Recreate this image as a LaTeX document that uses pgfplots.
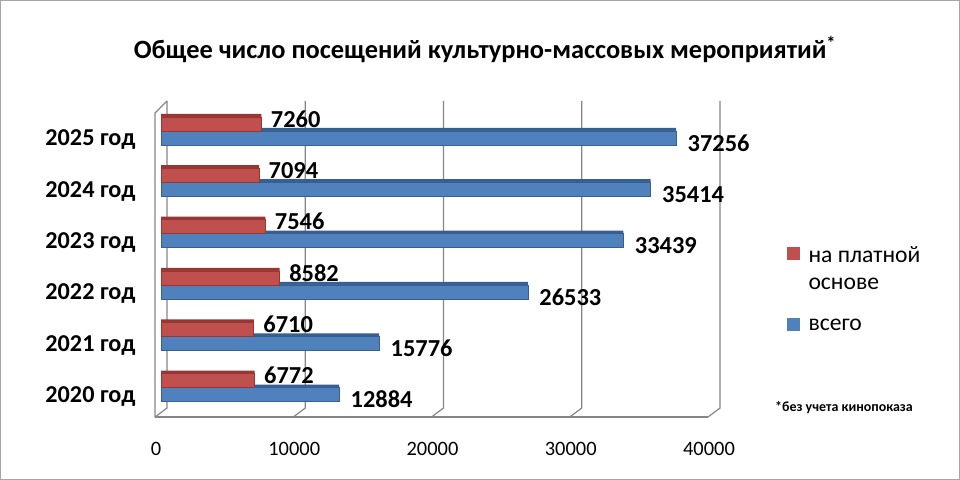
\documentclass[border=0pt]{standalone}
\usepackage{fontspec}
\setmainfont{Carlito}
\usepackage{pgfplots}
\pgfplotsset{compat=1.18}
\definecolor{redbar}{RGB}{192,80,77}
\definecolor{redtop}{RGB}{150,55,52}
\definecolor{bluebar}{RGB}{79,129,189}
\definecolor{bluetop}{RGB}{55,95,145}
\definecolor{gridc}{RGB}{134,134,134}
\tikzset{valnode/.style={anchor=west, font=\bfseries\fontsize{24.5}{28}\selectfont, black}}
\begin{document}
\begin{tikzpicture}
\useasboundingbox (0,0) rectangle (960bp,480bp);
\fill[white] (0,0) rectangle (960bp,480bp);
\draw[gray!70, line width=1bp] (0.5bp,0.5bp) rectangle (959.5bp,479.5bp);
\begin{axis}[
  at={(161bp,72bp)}, anchor=south west, scale only axis,
  width=553bp, height=307bp,
  xmin=0, xmax=40000, ymin=-0.3, ymax=5.68,
  xbar, bar width=14bp,
  axis line style={draw=none},
  major tick length=0pt,
  clip=false,
  xtick={0,10000,20000,30000,40000},
  xticklabel style={font=\fontsize{20.5}{24}\selectfont, anchor=center, xshift=-5bp, yshift=-41bp},
  scaled x ticks=false,
  xticklabel={\pgfmathprintnumber[1000 sep={},assume math mode=true]{\tick}},
  ytick={0,1,2,3,4,5},
  yticklabels={2020 год,2021 год,2022 год,2023 год,2024 год,2025 год},
  yticklabel style={font=\bfseries\fontsize{24.3}{28}\selectfont, anchor=east, xshift=-22bp, yshift=-4bp},
]
% grid (back wall + floor)
\pgfplotsinvokeforeach{0,10000,20000,30000,40000}{
  \draw[gridc, line width=1.2bp] ([xshift=6bp]axis cs:#1,5.68) -- ([xshift=6bp]axis cs:#1,-0.3) -- ([xshift=-6bp,yshift=-9bp]axis cs:#1,-0.3);
}
\draw[gridc, line width=1.2bp] ([xshift=-6bp,yshift=-9bp]axis cs:0,-0.3) -- ([xshift=-6bp,yshift=-9bp]axis cs:40000,-0.3);
\draw[gridc, line width=1.2bp] ([xshift=-6bp,yshift=-9bp]axis cs:0,-0.3) -- ([xshift=-6bp,yshift=-12bp]axis cs:0,5.68) -- ([xshift=6bp]axis cs:0,5.68);
% blue top face
\addplot[fill=bluetop, draw=none, bar shift=6.5bp, bar width=3bp, forget plot]
  coordinates {(12884,0) (15776,1) (26533,2) (33439,3) (35414,4) (37256,5)};
% blue bars
\addplot[fill=bluebar, draw=bluetop, line width=0.6bp, bar shift=-2bp,
  nodes near coords={\hspace*{8bp}\pgfmathprintnumber[1000 sep={},assume math mode=true]{\pgfplotspointmeta}},
  nodes near coords style={valnode, yshift=-5bp}]
  coordinates {(12884,0) (15776,1) (26533,2) (33439,3) (35414,4) (37256,5)};
% red top face
\addplot[fill=redtop, draw=none, bar shift=20.5bp, bar width=3bp, forget plot]
  coordinates {(6772,0) (6710,1) (8582,2) (7546,3) (7094,4) (7260,5)};
% red bars
\addplot[fill=redbar, draw=redtop, line width=0.6bp, bar shift=12bp,
  nodes near coords={\hspace*{6bp}\pgfmathprintnumber[1000 sep={},assume math mode=true]{\pgfplotspointmeta}},
  nodes near coords style={valnode, yshift=5bp}]
  coordinates {(6772,0) (6710,1) (8582,2) (7546,3) (7094,4) (7260,5)};
\end{axis}
% title
\node[font=\bfseries\fontsize{26.5}{30}\selectfont] at (485bp,430bp) {Общее число посещений культурно-массовых мероприятий\textsuperscript{*}};
% legend
\fill[redbar] (787bp,220bp) rectangle (800bp,233bp);
\fill[bluebar] (787bp,149bp) rectangle (800bp,162bp);
\node[anchor=west, font=\fontsize{23.7}{28}\selectfont] at (805bp,225bp) {на платной};
\node[anchor=west, font=\fontsize{23.7}{28}\selectfont] at (805bp,196bp) {основе};
\node[anchor=west, font=\fontsize{23.7}{28}\selectfont] at (805bp,155bp) {всего};
% footnote
\node[font=\bfseries\fontsize{14}{16}\selectfont] at (844bp,72bp) {*без учета кинопоказа};
\end{tikzpicture}
\end{document}
